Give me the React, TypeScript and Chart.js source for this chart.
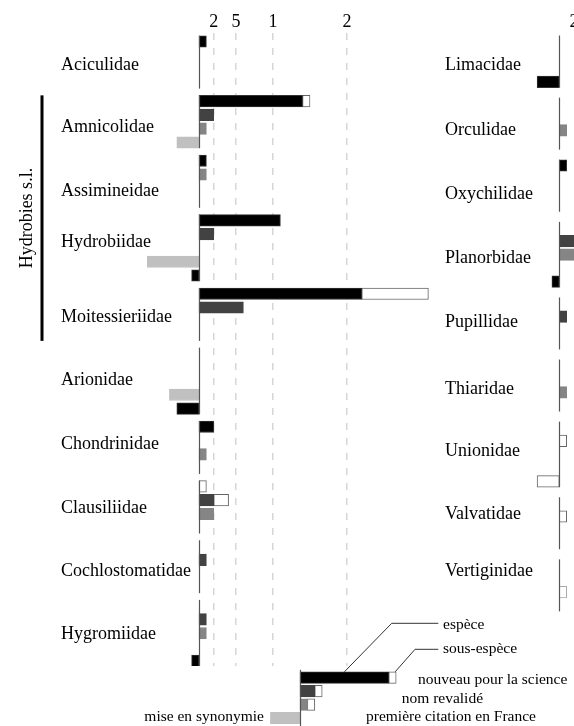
import React, { useEffect, useRef } from 'react';
import { Chart, registerables } from 'chart.js';
Chart.register(...registerables);

const FONT = "'Liberation Serif', 'Times New Roman', serif";

// ---- top axis ----
const TICK_VALUES = [2, 5, 10, 20];
const TICK_LABELS = ['2', '5', '1', '2'];

// ---- left column ----
const LEFT_FAMILIES = ['Aciculidae', 'Amnicolidae', 'Assimineidae', 'Hydrobiidae', 'Moitessieriidae', 'Arionidae', 'Chondrinidae', 'Clausiliidae', 'Cochlostomatidae', 'Hygromiidae'];
const LEFT_SLOTS = [4, 4, 4, 5, 4, 5, 4, 4, 4, 5];
const LEFT_NOUVEAU = [1, 14, 1, 11, 22, 0, 2, 0, 0, 0];
const LEFT_NOUVEAU_SSP = [0, 1, 0, 0, 9, 0, 0, 1, 0, 0];
const LEFT_REVALIDE = [0, 2, 0, 2, 6, 0, 0, 2, 1, 1];
const LEFT_REVALIDE_SSP = [0, 0, 0, 0, 0, 0, 0, 2, 0, 0];
const LEFT_PREMIERE = [0, 1, 1, 0, 0, 0, 1, 2, 0, 1];
const LEFT_PREMIERE_SSP = [0, 0, 0, 0, 0, 0, 0, 0, 0, 0];
const LEFT_SYNONYMIE = [0, -3, 0, -7, 0, -4, 0, 0, 0, 0];
const LEFT_SYNONYMIE_ESP = [0, 0, 0, -1, 0, -3, 0, 0, 0, -1];
const LEFT_SYNONYMIE_SSP = [0, 0, 0, 0, 0, 0, 0, 0, 0, 0];
const LEFT_LABEL_SHIFT = [1.7, 1.88, 2.2, 1.61, 1.72, 1.93, 1.25, 1.57, 1.81, 2.05];

// ---- right column ----
const RIGHT_FAMILIES = ['Limacidae', 'Orculidae', 'Oxychilidae', 'Planorbidae', 'Pupillidae', 'Thiaridae', 'Unionidae', 'Valvatidae', 'Vertiginidae'];
const RIGHT_SLOTS = [4, 4, 4, 5, 4, 4, 5, 4, 4];
const RIGHT_NOUVEAU = [0, 0, 1, 0, 0, 0, 0, 0, 0];
const RIGHT_NOUVEAU_SSP = [0, 0, 0, 0, 0, 0, 0, 0, 0];
const RIGHT_REVALIDE = [0, 0, 0, 3, 1, 0, 0, 0, 0];
const RIGHT_REVALIDE_SSP = [0, 0, 0, 0, 0, 0, 1, 1, 0];
const RIGHT_PREMIERE = [0, 1, 0, 3, 0, 1, 0, 0, 0];
const RIGHT_PREMIERE_SSP = [0, 0, 0, 0, 0, 0, 0, 0, 1];
const RIGHT_SYNONYMIE = [0, 0, 0, 0, 0, 0, 0, 0, 0];
const RIGHT_SYNONYMIE_ESP = [-3, 0, 0, -1, 0, 0, 0, 0, 0];
const RIGHT_SYNONYMIE_SSP = [0, 0, 0, 0, 0, 0, -3, 0, 0];
const RIGHT_LABEL_SHIFT = [1.76, 1.97, 2.11, 2.25, 1.44, 1.76, 1.8, 0.81, 0.49];

const SLOT_EXCEPTIONS: Record<string, Record<string, number>> = {
  Assimineidae: { premiere: 1 },
  Limacidae: { synEsp: 3 },
};

const BRACKET_LABEL = 'Hydrobies s.l.';
const BRACKET_FROM = 'Amnicolidae';
const BRACKET_TO = 'Moitessieriidae';

// ---- legend ----
const LEGEND_CATEGORIES = ['nouveau pour la science', 'nom revalidé', 'première citation en France', 'mise en synonymie'];
const LEGEND_ESPECE = [12, 2, 1, -4];
const LEGEND_SSP = [1, 1, 1, 0];
const LEGEND_STACKS = ['espèce', 'sous-espèce'];

// ---- styles ----
const BLACK = '#000000';
const DARK = '#424242';
const GRAY = '#858585';
const LIGHT = '#c0c0c0';
const SERIES = [
  { key: 'nouveau', slot: 0, bg: BLACK, border: '#333333' },
  { key: 'nouveauSsp', slot: 0, bg: '#ffffff', border: '#666666' },
  { key: 'revalide', slot: 1, bg: DARK, border: DARK },
  { key: 'revalideSsp', slot: 1, bg: '#ffffff', border: '#666666' },
  { key: 'premiere', slot: 2, bg: GRAY, border: GRAY },
  { key: 'premiereSsp', slot: 2, bg: '#ffffff', border: '#aaaaaa' },
  { key: 'synonymie', slot: 3, bg: LIGHT, border: LIGHT },
  { key: 'synEsp', slot: 4, bg: BLACK, border: '#333333' },
  { key: 'synSsp', slot: 4, bg: '#ffffff', border: '#666666' },
];

const TOP = 33.2;
const K = 7.4;
const BAR = 11.5;
const HALF = BAR / 2;
const Y_MIN = -0.6;

type Col = {
  families: string[];
  slots: number[];
  values: Record<string, number[]>;
  labelShift: number[];
  gap: number;
  pitch: number;
  width: number;
  height: number;
  labelX: number;
  zeroX: number;
  bracket: boolean;
  grid: boolean;
};

function groupStarts(slots: number[], gap: number) {
  let acc = 0;
  return slots.map((n) => {
    const s = acc;
    acc += n + gap;
    return s;
  });
}

function makeColumn(canvas: HTMLCanvasElement, col: Col) {
  const starts = groupStarts(col.slots, col.gap);
  const xMin = -col.zeroX / K;
  const xMax = (col.width - col.zeroX) / K;
  const yMax = Y_MIN + (col.height - TOP) / col.pitch;

  const datasets = SERIES.map((s) => ({
    label: s.key,
    data: col.families.flatMap((f, g) => {
      const v = col.values[s.key][g];
      if (!v) return [];
      const slot = SLOT_EXCEPTIONS[f] && SLOT_EXCEPTIONS[f][s.key] !== undefined ? SLOT_EXCEPTIONS[f][s.key] : s.slot;
      return [{ x: v, y: starts[g] + slot }];
    }),
    backgroundColor: s.bg,
    borderColor: s.border,
    borderWidth: 1,
    borderSkipped: false as const,
    barThickness: BAR,
    stack: 'all',
  }));

  const groupAxes = {
    id: 'groupAxes',
    afterDatasetsDraw(chart: any) {
      const { ctx } = chart;
      const x = chart.scales.x;
      const y = chart.scales.y;
      const x0 = Math.round(x.getPixelForValue(0)) + 0.5;
      ctx.save();
      ctx.strokeStyle = '#555555';
      ctx.lineWidth = 1.2;
      starts.forEach((s, g) => {
        const top = y.getPixelForValue(s) - HALF;
        const bot = y.getPixelForValue(s + col.slots[g] - 1) + HALF;
        ctx.beginPath();
        ctx.moveTo(x0, top);
        ctx.lineTo(x0, bot);
        ctx.stroke();
      });
      if (col.bracket) {
        const a = col.families.indexOf(BRACKET_FROM);
        const b = col.families.indexOf(BRACKET_TO);
        const top = y.getPixelForValue(starts[a]) - HALF;
        const bot = y.getPixelForValue(starts[b] + col.slots[b] - 1) + HALF;
        ctx.strokeStyle = '#000000';
        ctx.lineWidth = 3;
        ctx.beginPath();
        ctx.moveTo(42, top);
        ctx.lineTo(42, bot);
        ctx.stroke();
        ctx.translate(27, (top + bot) / 2);
        ctx.rotate(-Math.PI / 2);
        ctx.fillStyle = '#000000';
        ctx.font = `18px ${FONT}`;
        ctx.textAlign = 'center';
        ctx.textBaseline = 'middle';
        ctx.fillText(BRACKET_LABEL, 0, 0);
      }
      ctx.restore();
    },
  };

  return new Chart(canvas, {
    type: 'bar',
    data: { datasets: datasets as any },
    plugins: [groupAxes],
    options: {
      indexAxis: 'y',
      responsive: false,
      animation: false,
      devicePixelRatio: 1,
      layout: { padding: 0 },
      plugins: { legend: { display: false }, tooltip: { enabled: false } },
      scales: {
        x: {
          type: 'linear',
          position: 'top',
          min: xMin,
          max: xMax,
          stacked: true,
          offset: false,
          afterBuildTicks: (s: any) => {
            s.ticks = TICK_VALUES.filter((v) => v <= s.max).map((v) => ({ value: v }));
          },
          afterFit: (s: any) => {
            s.height = TOP;
            s.paddingLeft = 0;
            s.paddingRight = 0;
            s.paddingTop = 0;
            s.paddingBottom = 0;
          },
          ticks: {
            autoSkip: false,
            maxRotation: 0,
            minRotation: 0,
            padding: 0,
            color: '#000000',
            font: { family: FONT, size: 18 },
            callback: (v: any) => TICK_LABELS[TICK_VALUES.indexOf(Number(v))],
          },
          grid: { display: col.grid, drawTicks: false, offset: false, color: '#d6d6d6', lineWidth: 1.5 },
          border: { display: false, dash: [7, 8] },
        } as any,
        y: {
          type: 'linear',
          reverse: true,
          bounds: 'data',
          offset: false,
          min: Y_MIN,
          max: yMax,
          afterBuildTicks: (s: any) => {
            s.ticks = col.families.map((f, g) => ({ value: starts[g] + col.labelShift[g] }));
          },
          afterFit: (s: any) => {
            s.width = 0;
            s.paddingLeft = 0;
            s.paddingRight = 0;
            s.paddingTop = 0;
            s.paddingBottom = 0;
          },
          ticks: {
            autoSkip: false,
            mirror: true,
            crossAlign: 'near',
            padding: col.labelX,
            color: '#000000',
            font: { family: FONT, size: 18 },
            callback: (_v: any, i: number) => col.families[i],
          },
          grid: { display: false, offset: false },
          border: { display: false },
        } as any,
      },
    },
  });
}

function makeLegend(canvas: HTMLCanvasElement) {
  const W = 434;
  const zeroX = 160;
  const xMin = -6;
  const chartLeft = zeroX + xMin * K;
  const xMax = xMin + (W - chartLeft) / K;

  const legendText = {
    id: 'legendText',
    afterDatasetsDraw(chart: any) {
      const { ctx, chartArea } = chart;
      const x = chart.scales.x;
      const y = chart.scales.y;
      const x0 = Math.round(x.getPixelForValue(0)) + 0.5;
      ctx.save();
      ctx.strokeStyle = '#555555';
      ctx.lineWidth = 1.2;
      ctx.beginPath();
      ctx.moveTo(x0, chartArea.top - 1);
      ctx.lineTo(x0, chartArea.bottom + 2);
      ctx.stroke();

      // leader lines
      const barTop = y.getPixelForValue(0) - HALF;
      ctx.strokeStyle = '#333333';
      ctx.lineWidth = 1;
      ctx.beginPath();
      ctx.moveTo(x.getPixelForValue(6), barTop);
      ctx.lineTo(251.7, 13.3);
      ctx.lineTo(298.3, 13.3);
      ctx.stroke();
      ctx.beginPath();
      ctx.moveTo(x.getPixelForValue(LEGEND_ESPECE[0] + LEGEND_SSP[0]) - 1, barTop);
      ctx.lineTo(275, 39.3);
      ctx.lineTo(298.3, 39.3);
      ctx.stroke();

      ctx.fillStyle = '#000000';
      ctx.font = `15.5px ${FONT}`;
      ctx.textBaseline = 'middle';
      ctx.textAlign = 'left';
      ctx.fillText(LEGEND_STACKS[0], 303, 15);
      ctx.fillText(LEGEND_STACKS[1], 303, 39);
      ctx.fillText(LEGEND_CATEGORIES[0], 278, 70);
      ctx.fillText(LEGEND_CATEGORIES[1], 261.7, 89);
      ctx.fillText(LEGEND_CATEGORIES[2], 226, 106.7);
      ctx.textAlign = 'right';
      ctx.fillText(LEGEND_CATEGORIES[3], 124, 106.7);
      ctx.restore();
    },
  };

  return new Chart(canvas, {
    type: 'bar',
    data: {
      labels: LEGEND_CATEGORIES,
      datasets: [
        {
          label: LEGEND_STACKS[0],
          data: LEGEND_ESPECE,
          backgroundColor: [BLACK, DARK, GRAY, LIGHT],
          borderColor: ['#333333', DARK, GRAY, LIGHT],
          borderWidth: 1,
          borderSkipped: false,
          barThickness: BAR,
          stack: 'all',
        },
        {
          label: LEGEND_STACKS[1],
          data: LEGEND_SSP,
          backgroundColor: '#ffffff',
          borderColor: '#666666',
          borderWidth: 1,
          borderSkipped: false,
          barThickness: BAR,
          stack: 'all',
        },
      ],
    },
    plugins: [legendText],
    options: {
      indexAxis: 'y',
      responsive: false,
      animation: false,
      devicePixelRatio: 1,
      layout: { padding: { left: chartLeft, top: 60.8, right: 0, bottom: 1.2 } },
      plugins: { legend: { display: false }, tooltip: { enabled: false } },
      scales: {
        x: { type: 'linear', display: false, min: xMin, max: xMax, stacked: true },
        y: { type: 'category', display: false },
      },
    },
  });
}

export default function App() {
  const leftRef = useRef<HTMLCanvasElement>(null);
  const rightRef = useRef<HTMLCanvasElement>(null);
  const legendRef = useRef<HTMLCanvasElement>(null);

  useEffect(() => {
    const left = makeColumn(leftRef.current!, {
      families: LEFT_FAMILIES,
      slots: LEFT_SLOTS,
      values: {
        nouveau: LEFT_NOUVEAU,
        nouveauSsp: LEFT_NOUVEAU_SSP,
        revalide: LEFT_REVALIDE,
        revalideSsp: LEFT_REVALIDE_SSP,
        premiere: LEFT_PREMIERE,
        premiereSsp: LEFT_PREMIERE_SSP,
        synonymie: LEFT_SYNONYMIE,
        synEsp: LEFT_SYNONYMIE_ESP,
        synSsp: LEFT_SYNONYMIE_SSP,
      },
      labelShift: LEFT_LABEL_SHIFT,
      gap: 0.32,
      pitch: 13.8,
      width: 440,
      height: 666,
      labelX: 61,
      zeroX: 199,
      bracket: true,
      grid: true,
    });
    const right = makeColumn(rightRef.current!, {
      families: RIGHT_FAMILIES,
      slots: RIGHT_SLOTS,
      values: {
        nouveau: RIGHT_NOUVEAU,
        nouveauSsp: RIGHT_NOUVEAU_SSP,
        revalide: RIGHT_REVALIDE,
        revalideSsp: RIGHT_REVALIDE_SSP,
        premiere: RIGHT_PREMIERE,
        premiereSsp: RIGHT_PREMIERE_SSP,
        synonymie: RIGHT_SYNONYMIE,
        synEsp: RIGHT_SYNONYMIE_ESP,
        synSsp: RIGHT_SYNONYMIE_SSP,
      },
      labelShift: RIGHT_LABEL_SHIFT,
      gap: 0.6,
      pitch: 13.5,
      width: 200,
      height: 640,
      labelX: 5,
      zeroX: 119.3,
      bracket: false,
      grid: false,
    });
    const legend = makeLegend(legendRef.current!);
    return () => {
      left.destroy();
      right.destroy();
      legend.destroy();
    };
  }, []);

  return (
    <div style={{ position: 'fixed', left: 0, top: 0, width: 574, height: 726, overflow: 'hidden', background: '#ffffff' }}>
      <canvas ref={leftRef} width={440} height={666} style={{ position: 'absolute', left: 0, top: 0 }} />
      <canvas ref={rightRef} width={200} height={640} style={{ position: 'absolute', left: 440, top: 0 }} />
      <canvas ref={legendRef} width={434} height={116} style={{ position: 'absolute', left: 140, top: 610 }} />
    </div>
  );
}
